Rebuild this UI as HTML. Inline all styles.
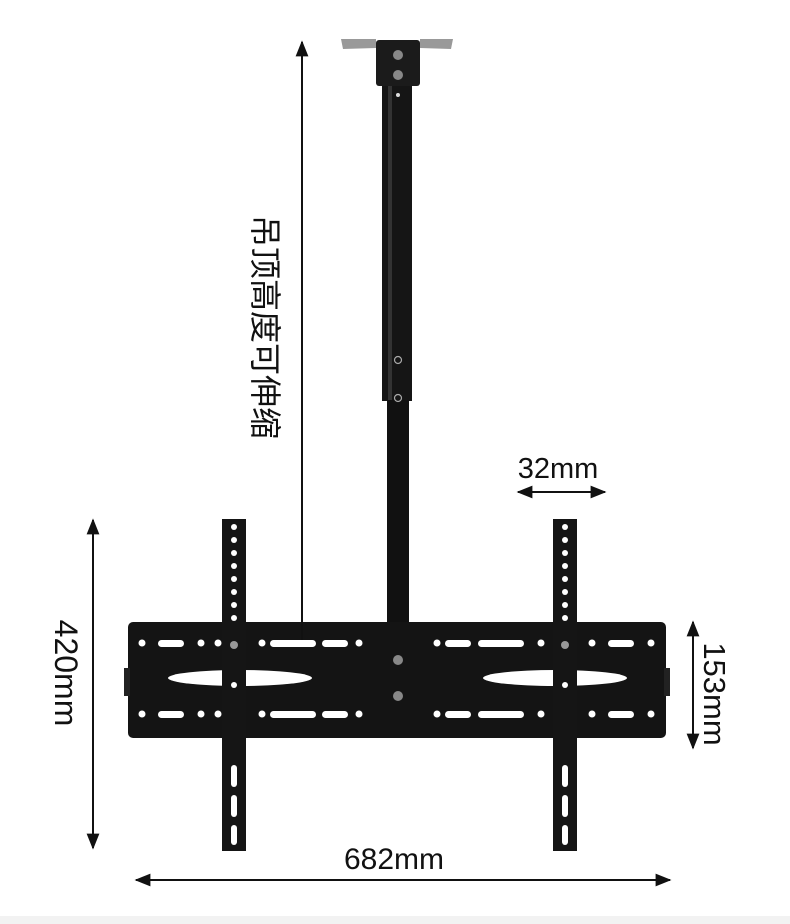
<!DOCTYPE html>
<html><head><meta charset="utf-8"><style>
html,body{margin:0;padding:0;background:#fff;}
svg{display:block}
text{font-family:"Liberation Sans","Noto Sans CJK SC",sans-serif;fill:#111}
</style></head><body>
<svg width="790" height="924" viewBox="0 0 790 924" xmlns="http://www.w3.org/2000/svg">
<defs>
<marker id="ah" viewBox="0 0 10 10" refX="9" refY="5" markerWidth="8" markerHeight="8" orient="auto-start-reverse"><path d="M0,1 L10,5 L0,9 z" fill="#111"/></marker>
</defs>
<rect x="0" y="916" width="790" height="8" fill="#f2f2f2"/>
<!-- top bracket -->
<path d="M341,39 L376,39 L376,48 L343,49 Z" fill="#999"/>
<path d="M420,39 L453,39 L451,49 L420,48 Z" fill="#999"/>
<rect x="376" y="40" width="44" height="46" rx="3" fill="#1b1b1b"/>
<circle cx="398" cy="55" r="5" fill="#888"/><circle cx="398" cy="75" r="5" fill="#888"/>
<!-- pole -->
<rect x="382" y="86" width="30" height="315" fill="#151515"/>
<rect x="388" y="86" width="4" height="315" fill="#333"/>
<rect x="387" y="400" width="22" height="225" fill="#111"/>
<circle cx="398" cy="360" r="3.5" fill="none" stroke="#aaa" stroke-width="1.2"/>
<circle cx="398" cy="398" r="3.5" fill="none" stroke="#aaa" stroke-width="1.2"/>
<circle cx="398" cy="95" r="2" fill="#ddd"/>
<!-- plate -->
<rect x="128" y="622" width="538" height="116" rx="5" fill="#141414"/>
<rect x="124" y="668" width="6" height="28" fill="#222"/>
<rect x="664" y="668" width="6" height="28" fill="#222"/>
<g fill="#fff">
<circle cx="142" cy="643" r="3.5"/><rect x="158" y="640" width="26" height="7" rx="3.5"/><circle cx="201" cy="643" r="3.5"/><circle cx="218" cy="643" r="3.5"/>
<circle cx="262" cy="643" r="3.5"/><rect x="270" y="640" width="46" height="7" rx="3.5"/><rect x="322" y="640" width="26" height="7" rx="3.5"/><circle cx="359" cy="643" r="3.5"/>
<circle cx="437" cy="643" r="3.5"/><rect x="445" y="640" width="26" height="7" rx="3.5"/><rect x="478" y="640" width="46" height="7" rx="3.5"/><circle cx="541" cy="643" r="3.5"/>
<circle cx="592" cy="643" r="3.5"/><rect x="608" y="640" width="26" height="7" rx="3.5"/><circle cx="651" cy="643" r="3.5"/>
<circle cx="142" cy="714" r="3.5"/><rect x="158" y="711" width="26" height="7" rx="3.5"/><circle cx="201" cy="714" r="3.5"/><circle cx="218" cy="714" r="3.5"/>
<circle cx="262" cy="714" r="3.5"/><rect x="270" y="711" width="46" height="7" rx="3.5"/><rect x="322" y="711" width="26" height="7" rx="3.5"/><circle cx="359" cy="714" r="3.5"/>
<circle cx="437" cy="714" r="3.5"/><rect x="445" y="711" width="26" height="7" rx="3.5"/><rect x="478" y="711" width="46" height="7" rx="3.5"/><circle cx="541" cy="714" r="3.5"/>
<circle cx="592" cy="714" r="3.5"/><rect x="608" y="711" width="26" height="7" rx="3.5"/><circle cx="651" cy="714" r="3.5"/>
<ellipse cx="240" cy="678" rx="72" ry="8"/>
<ellipse cx="555" cy="678" rx="72" ry="8"/>
</g>
<circle cx="398" cy="660" r="5" fill="#888"/><circle cx="398" cy="696" r="5" fill="#888"/>
<!-- vertical bars -->
<g>
<rect x="222" y="519" width="24" height="332" fill="#151515"/>
<rect x="553" y="519" width="24" height="332" fill="#151515"/>
</g>
<g fill="#fff">
<circle cx="234" cy="527" r="3"/><circle cx="234" cy="540" r="3"/><circle cx="234" cy="553" r="3"/><circle cx="234" cy="566" r="3"/><circle cx="234" cy="579" r="3"/><circle cx="234" cy="592" r="3"/><circle cx="234" cy="605" r="3"/><circle cx="234" cy="618" r="3"/>
<circle cx="234" cy="685" r="3"/>
<rect x="231" y="765" width="6" height="22" rx="3"/><rect x="231" y="795" width="6" height="22" rx="3"/><rect x="231" y="825" width="6" height="20" rx="3"/>
<circle cx="565" cy="527" r="3"/><circle cx="565" cy="540" r="3"/><circle cx="565" cy="553" r="3"/><circle cx="565" cy="566" r="3"/><circle cx="565" cy="579" r="3"/><circle cx="565" cy="592" r="3"/><circle cx="565" cy="605" r="3"/><circle cx="565" cy="618" r="3"/>
<circle cx="565" cy="685" r="3"/>
<rect x="562" y="765" width="6" height="22" rx="3"/><rect x="562" y="795" width="6" height="22" rx="3"/><rect x="562" y="825" width="6" height="20" rx="3"/>
</g>
<circle cx="234" cy="645" r="4" fill="#999"/><circle cx="565" cy="645" r="4" fill="#999"/>
<!-- dimension lines -->
<g stroke="#111" stroke-width="2" fill="none">
<line x1="302" y1="42" x2="302" y2="640" marker-start="url(#ah)"/>
<line x1="93" y1="520" x2="93" y2="848" marker-start="url(#ah)" marker-end="url(#ah)"/>
<line x1="693" y1="622" x2="693" y2="748" marker-start="url(#ah)" marker-end="url(#ah)"/>
<line x1="136" y1="880" x2="670" y2="880" marker-start="url(#ah)" marker-end="url(#ah)"/>
<line x1="518" y1="492" x2="605" y2="492" marker-start="url(#ah)" marker-end="url(#ah)"/>
</g>
<text x="0" y="0" font-size="32" text-anchor="middle" transform="translate(254,327) rotate(90)">吊顶高度可伸缩</text>
<text x="0" y="0" font-size="32" text-anchor="middle" transform="translate(55,673) rotate(90)">420mm</text>
<text x="0" y="0" font-size="31" text-anchor="middle" transform="translate(704,694) rotate(90)">153mm</text>
<text x="394" y="869" font-size="30" text-anchor="middle">682mm</text>
<text x="558" y="478" font-size="29" text-anchor="middle">32mm</text>
</svg>
</body></html>
